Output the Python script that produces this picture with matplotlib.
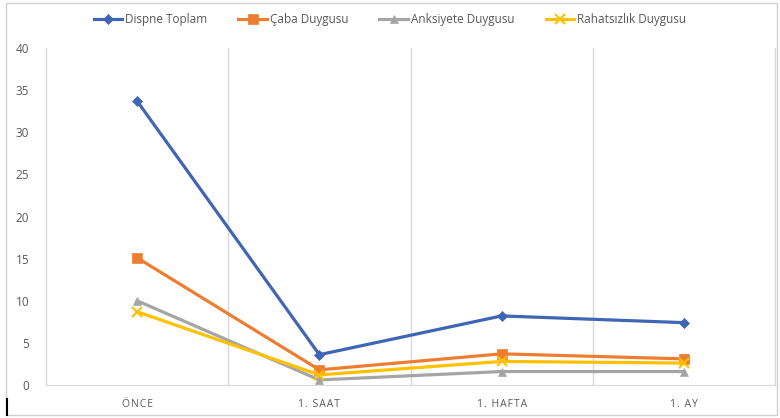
import matplotlib
matplotlib.use("Agg")
import matplotlib.pyplot as plt
from matplotlib.lines import Line2D
from matplotlib.patches import Rectangle

categories = ["ÖNCE", "1. SAAT", "1. HAFTA", "1. AY"]
dispne = [33.7, 3.6, 8.2, 7.4]
caba = [15.1, 1.8, 3.7, 3.1]
anksiyete = [10.0, 0.6, 1.6, 1.6]
rahatsizlik = [8.7, 1.2, 2.8, 2.6]
series_names = ["Dispne Toplam", "Çaba Duygusu", "Anksiyete Duygusu", "Rahatsızlık Duygusu"]
yticks = [0, 5, 10, 15, 20, 25, 30, 35, 40]

plt.rcParams['font.family'] = ['Open Sans', 'DejaVu Sans']
W, H = 780, 418
fig = plt.figure(figsize=(W/100, H/100), dpi=100)
ax = fig.add_axes([46/W, (H-385)/H, (775-46)/W, (385-48)/H])

colors = ["#3F66B5", "#ED7D31", "#A5A5A5", "#FFC000"]
markers = ["D", "s", "^", "x"]
msizes = [5, 7, 6, 7]
x = list(range(len(categories)))
data = [dispne, caba, anksiyete, rahatsizlik]
for vals, c, m, ms, name in zip(data, colors, markers, msizes, series_names):
    ax.plot(x, vals, color=c, lw=2.3, marker=m, markersize=ms, label=name,
            markeredgewidth=1.5 if m == "x" else 0.5, markeredgecolor=c)

ax.set_xlim(-0.5, 3.5)
ax.set_ylim(0, 40)
ax.set_yticks(yticks)
ax.set_xticks(x)
spaced = ["\u200a".join(list(c)) for c in categories]
ax.set_xticklabels(spaced, family=['Open Sans', 'DejaVu Sans'], fontsize=7.5)
for b in [-0.5, 0.5, 1.5, 2.5, 3.5]:
    ax.axvline(b, color="#D9D9D9", lw=1, zorder=0, clip_on=False)
for s in ["top", "right", "left"]:
    ax.spines[s].set_visible(False)
ax.spines["bottom"].set_color("#D9D9D9")
ax.tick_params(axis="both", length=0, colors="#595959", labelsize=8.5)
ax.tick_params(axis="x", pad=10, labelsize=7.5)
ax.tick_params(axis="y", pad=12)

leg = fig.legend(loc="center", bbox_to_anchor=(0.5, (H-20)/H), ncol=4, frameon=False,
                 fontsize=8.5, handlelength=2.4, columnspacing=2.6, handletextpad=0.3,
                 labelcolor="#595959")

fig.patches.append(Rectangle((6/W, 3/H), (777-6)/W, (415-3)/H, transform=fig.transFigure,
                             fill=False, edgecolor="#D0D0D0", lw=1))
fig.add_artist(Line2D([7/W, 7/W], [(H-415)/H, (H-399)/H], transform=fig.transFigure,
                      color="black", lw=1.5))

fig.savefig("out.png", dpi=100)
